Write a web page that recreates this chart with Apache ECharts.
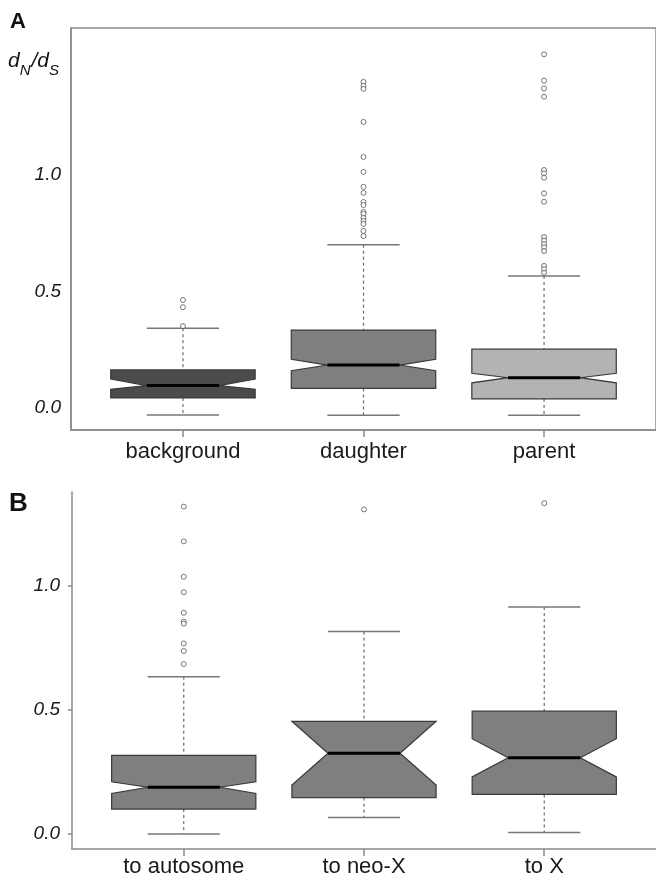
<!DOCTYPE html>
<html>
<head>
<meta charset="utf-8">
<script src="https://cdn.jsdelivr.net/npm/echarts@6/dist/echarts.min.js"></script>
<style>
html,body{margin:0;padding:0;background:#fff;}
#chart{width:656px;height:878px;}
</style>
</head>
<body>
<div id="chart"></div>
<script>
// ---------- Panel A data ----------
const categoriesA = ['background', 'daughter', 'parent'];
const lowerWhiskerA = [-0.030, -0.031, -0.031];
const q1A = [0.043, 0.084, 0.039];
const notchLowA = [0.080, 0.160, 0.108];
const medianA = [0.096, 0.184, 0.130];
const notchHighA = [0.124, 0.209, 0.149];
const q3A = [0.163, 0.334, 0.252];
const upperWhiskerA = [0.342, 0.700, 0.566];
const outliersBackground = [0.463, 0.432, 0.351];
const outliersDaughter = [1.398, 1.381, 1.368, 1.226, 1.076, 1.012, 0.948, 0.922, 0.883, 0.870, 0.840, 0.832, 0.815, 0.802, 0.789, 0.759, 0.737];
const outliersParent = [1.516, 1.403, 1.370, 1.334, 1.020, 1.006, 0.987, 0.920, 0.884, 0.733, 0.718, 0.703, 0.689, 0.673, 0.609, 0.595, 0.580];

// ---------- Panel B data ----------
const categoriesB = ['to autosome', 'to neo-X', 'to X'];
const lowerWhiskerB = [0.001, 0.067, 0.007];
const q1B = [0.101, 0.147, 0.160];
const notchLowB = [0.164, 0.198, 0.231];
const medianB = [0.189, 0.326, 0.308];
const notchHighB = [0.211, 0.455, 0.385];
const q3B = [0.318, 0.455, 0.496];
const upperWhiskerB = [0.635, 0.817, 0.916];
const outliersAutosome = [1.321, 1.181, 1.038, 0.976, 0.893, 0.857, 0.849, 0.769, 0.739, 0.686];
const outliersNeoX = [1.310];
const outliersX = [1.335];

// ---------- styles ----------
const fillA = ['#4b4b4b', '#7f7f7f', '#b3b3b3'];
const fillB = ['#7f7f7f', '#7f7f7f', '#7f7f7f'];
const FONT = "'Liberation Sans', Arial, Helvetica, sans-serif";

function boxRows(lw, q1, nl, med, nh, q3, uw) {
  return lw.map((_, i) => [i + 1, lw[i], q1[i], nl[i], med[i], nh[i], q3[i], uw[i]]);
}
function outlierRows(lists) {
  const rows = [];
  lists.forEach((l, i) => l.forEach(v => rows.push([i + 1, v])));
  return rows;
}

function makeRender(fills) {
  return function (params, api) {
    const x = api.value(0);
    const lw = api.value(1), q1 = api.value(2), nl = api.value(3), med = api.value(4),
          nh = api.value(5), q3 = api.value(6), uw = api.value(7);
    const half = 0.4, inset = 0.2, cap = 0.2;
    const P = (xx, yy) => api.coord([xx, yy]);
    const whiskerStyle = { stroke: '#6a6a6a', lineWidth: 1.2, lineDash: [3, 3] };
    const capStyle = { stroke: '#777', lineWidth: 1.5 };
    const poly = [
      P(x - half, q1), P(x - half, nl), P(x - half + inset, med), P(x - half, nh), P(x - half, q3),
      P(x + half, q3), P(x + half, nh), P(x + half - inset, med), P(x + half, nl), P(x + half, q1)
    ];
    const a = P(x, uw), b = P(x, q3), c = P(x, q1), d = P(x, lw);
    const cl = P(x - cap, uw), cr = P(x + cap, uw), dl = P(x - cap, lw), dr = P(x + cap, lw);
    const ml = P(x - half + inset, med), mr = P(x + half - inset, med);
    return {
      type: 'group',
      children: [
        { type: 'line', shape: { x1: a[0], y1: a[1], x2: b[0], y2: b[1] }, style: whiskerStyle },
        { type: 'line', shape: { x1: c[0], y1: c[1], x2: d[0], y2: d[1] }, style: whiskerStyle },
        { type: 'line', shape: { x1: cl[0], y1: cl[1], x2: cr[0], y2: cr[1] }, style: capStyle },
        { type: 'line', shape: { x1: dl[0], y1: dl[1], x2: dr[0], y2: dr[1] }, style: capStyle },
        { type: 'polygon', shape: { points: poly }, style: { fill: fills[params.dataIndex], stroke: '#3a3a3a', lineWidth: 1.2 } },
        { type: 'line', shape: { x1: ml[0], y1: ml[1], x2: mr[0], y2: mr[1] }, style: { stroke: '#000', lineWidth: 3 } }
      ]
    };
  };
}

const chart = echarts.init(document.getElementById('chart'), null, { renderer: 'canvas' });

const axisLineStyle = { color: '#8a8a8a', width: 1.5 };

const option = {
  animation: false,
  backgroundColor: '#fff',
  textStyle: { fontFamily: FONT },
  title: [
    { text: 'A', left: 10, top: 11, padding: 0, textStyle: { fontFamily: FONT, fontWeight: 'bold', fontSize: 22, color: '#111' } },
    { text: 'B', left: 9, top: 491, padding: 0, textStyle: { fontFamily: FONT, fontWeight: 'bold', fontSize: 26, color: '#111' } },
    {
      text: '{d|d}{s|N}{d|/d}{s|S}', left: 8, top: 51, padding: 0,
      textStyle: {
        fontWeight: 'normal',
        rich: {
          d: { fontFamily: FONT, fontStyle: 'italic', fontWeight: 'normal', fontSize: 21, color: '#111', lineHeight: 27, verticalAlign: 'top' },
          s: { fontFamily: FONT, fontStyle: 'italic', fontWeight: 'normal', fontSize: 15, color: '#111', lineHeight: 27, verticalAlign: 'bottom', padding: [0, 1, 0, 0] }
        }
      }
    }
  ],
  grid: [
    { left: 71, top: 28, width: 590, height: 402, show: true, borderColor: '#8a8a8a', borderWidth: 1.5 },
    { left: 72, top: 492, width: 590, height: 359 }
  ],
  xAxis: [
    {
      gridIndex: 0, type: 'value', min: 0.38, max: 3.62,
      splitLine: { show: false },
      axisLine: { show: true, onZero: false, lineStyle: axisLineStyle },
      axisTick: { show: true, customValues: [1, 2, 3], length: 7, lineStyle: axisLineStyle },
      axisLabel: { customValues: [1, 2, 3], formatter: v => categoriesA[Math.round(v) - 1], fontFamily: FONT, fontSize: 22, color: '#1a1a1a', margin: 11 }
    },
    {
      gridIndex: 1, type: 'value', min: 0.38, max: 3.62,
      splitLine: { show: false },
      axisLine: { show: true, onZero: false, lineStyle: axisLineStyle },
      axisTick: { show: true, customValues: [1, 2, 3], length: 7, lineStyle: axisLineStyle },
      axisLabel: { customValues: [1, 2, 3], formatter: v => categoriesB[Math.round(v) - 1], fontFamily: FONT, fontSize: 22, color: '#1a1a1a', margin: 7 }
    }
  ],
  yAxis: [
    {
      gridIndex: 0, type: 'value', min: -0.0943, max: 1.6288,
      splitLine: { show: false },
      axisLine: { show: true, onZero: false, lineStyle: axisLineStyle },
      axisTick: { show: false },
      axisLabel: { customValues: [0, 0.5, 1], formatter: v => v.toFixed(1), fontFamily: FONT, fontStyle: 'italic', fontSize: 19, color: '#1a1a1a', margin: 10 }
    },
    {
      gridIndex: 1, type: 'value', min: -0.060, max: 1.380,
      splitLine: { show: false },
      axisLine: { show: true, onZero: false, lineStyle: axisLineStyle },
      axisTick: { show: true, customValues: [0, 0.5, 1], length: 4, lineStyle: axisLineStyle },
      axisLabel: { customValues: [0, 0.5, 1], formatter: v => v.toFixed(1), fontFamily: FONT, fontStyle: 'italic', fontSize: 19, color: '#1a1a1a', margin: 12 }
    }
  ],
  series: [
    {
      type: 'custom', xAxisIndex: 0, yAxisIndex: 0,
      renderItem: makeRender(fillA),
      encode: { x: 0, y: [1, 2, 3, 4, 5, 6, 7] },
      data: boxRows(lowerWhiskerA, q1A, notchLowA, medianA, notchHighA, q3A, upperWhiskerA),
      z: 2
    },
    {
      type: 'scatter', xAxisIndex: 0, yAxisIndex: 0,
      symbol: 'circle', symbolSize: 5,
      itemStyle: { color: '#fff', borderColor: '#555', borderWidth: 1 },
      data: outlierRows([outliersBackground, outliersDaughter, outliersParent]),
      z: 3
    },
    {
      type: 'custom', xAxisIndex: 1, yAxisIndex: 1,
      renderItem: makeRender(fillB),
      encode: { x: 0, y: [1, 2, 3, 4, 5, 6, 7] },
      data: boxRows(lowerWhiskerB, q1B, notchLowB, medianB, notchHighB, q3B, upperWhiskerB),
      z: 2
    },
    {
      type: 'scatter', xAxisIndex: 1, yAxisIndex: 1,
      symbol: 'circle', symbolSize: 5,
      itemStyle: { color: '#fff', borderColor: '#555', borderWidth: 1 },
      data: outlierRows([outliersAutosome, outliersNeoX, outliersX]),
      z: 3
    }
  ]
};
chart.setOption(option);
</script>
</body>
</html>
